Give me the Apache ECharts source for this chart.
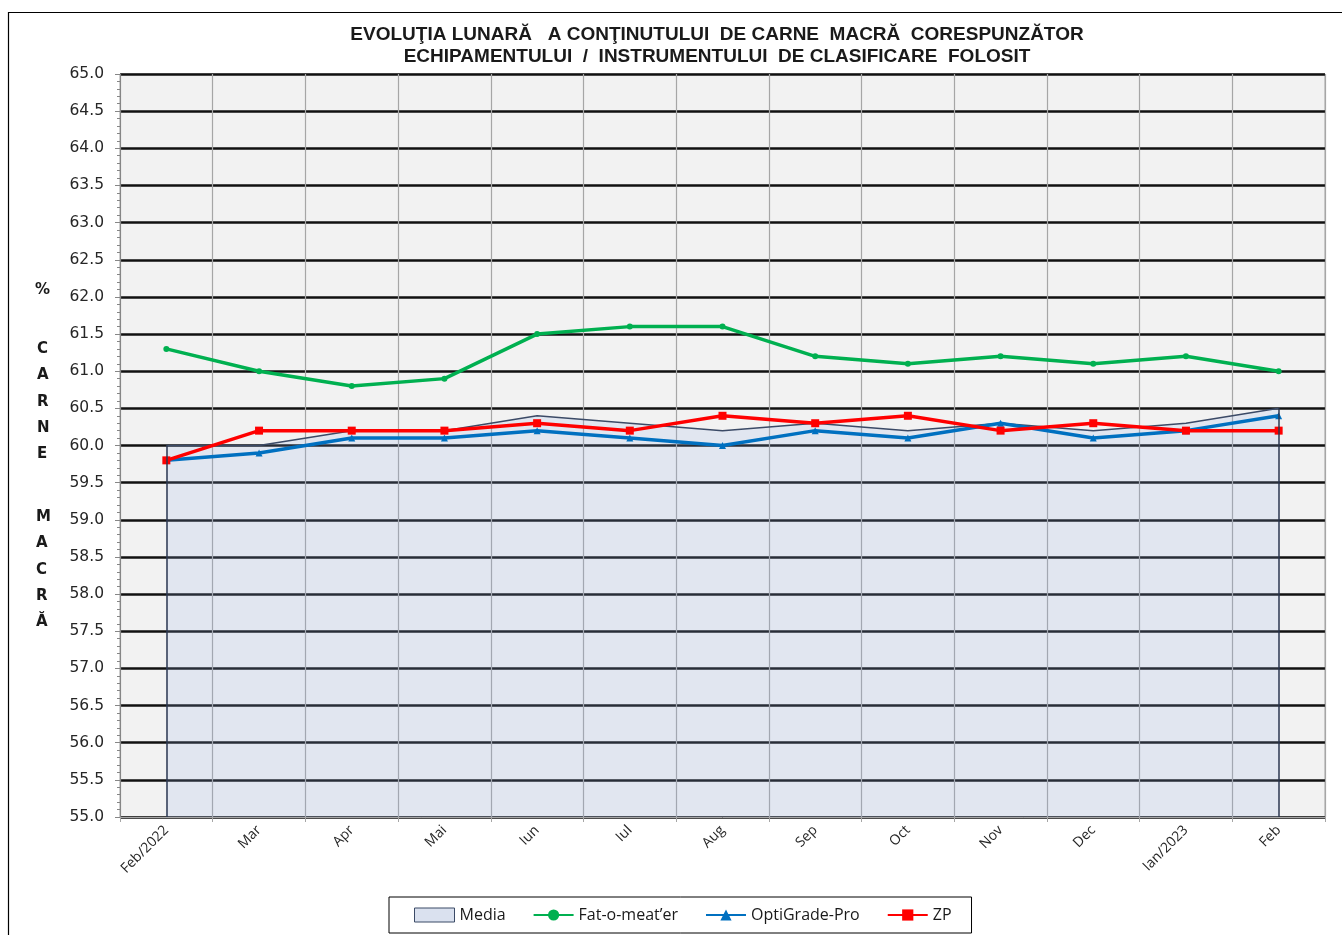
<!DOCTYPE html>
<html>
<head>
<meta charset="utf-8">
<title>Evolutia lunara carne macra</title>
<script src="https://cdn.jsdelivr.net/npm/echarts@6/dist/echarts.min.js"></script>
<style>
  html, body { margin: 0; padding: 0; background: #fff; }
  #chart { width: 1342px; height: 935px; }
</style>
</head>
<body>
<div id="chart"></div>
<script>
// luni (axa x)
const categories = ["Feb/2022", "Mar", "Apr", "Mai", "Iun", "Iul", "Aug", "Sep", "Oct", "Nov", "Dec", "Ian/2023", "Feb"];

// % carne macra pe echipament
const media = [60.0, 60.0, 60.2, 60.2, 60.4, 60.3, 60.2, 60.3, 60.2, 60.3, 60.2, 60.3, 60.5];
const fatOMeater = [61.3, 61.0, 60.8, 60.9, 61.5, 61.6, 61.6, 61.2, 61.1, 61.2, 61.1, 61.2, 61.0];
const optiGradePro = [59.8, 59.9, 60.1, 60.1, 60.2, 60.1, 60.0, 60.2, 60.1, 60.3, 60.1, 60.2, 60.4];
const zp = [59.8, 60.2, 60.2, 60.2, 60.3, 60.2, 60.4, 60.3, 60.4, 60.2, 60.3, 60.2, 60.2];

// axa y
const yMin = 55;
const yMax = 65;
const yStep = 0.5;

const chart = echarts.init(document.getElementById("chart"));

const last = categories.length - 1;

const option = {
  animation: false,
  backgroundColor: "#fff",
  title: {
    text: "EVOLUŢIA LUNARĂ   A CONŢINUTULUI  DE CARNE  MACRĂ  CORESPUNZĂTOR\nECHIPAMENTULUI  /  INSTRUMENTULUI  DE CLASIFICARE  FOLOSIT",
    left: 712,
    top: 19,
    textAlign: "center",
    textStyle: {
      fontFamily: "Liberation Sans",
      fontWeight: "bold",
      fontSize: 19,
      lineHeight: 22,
      color: "#1a1a1a"
    }
  },
  graphic: [
    {
      type: "rect",
      silent: true,
      shape: { x: 8.5, y: 12.5, width: 1340, height: 940 },
      style: { fill: "none", stroke: "#000", lineWidth: 1.2 }
    },
    {
      type: "text",
      left: 35,
      top: 283,
      style: { text: "%", font: "bold 15px 'DejaVu Sans'", fill: "#1a1a1a" }
    },
    {
      type: "text",
      left: 37,
      top: 336,
      style: {
        text: "C\nA\nR\nN\nE",
        font: "bold 15px 'DejaVu Sans'",
        lineHeight: 26.3,
        align: "center",
        fill: "#1a1a1a"
      }
    },
    {
      type: "text",
      left: 36,
      top: 504,
      style: {
        text: "M\nA\nC\nR\nĂ",
        font: "bold 15px 'DejaVu Sans'",
        lineHeight: 26.3,
        align: "center",
        fill: "#1a1a1a"
      }
    }
  ],
  legend: {
    left: 389,
    top: 897,
    padding: [10, 20, 10, 25],
    borderColor: "#000",
    borderWidth: 1,
    itemWidth: 40,
    itemHeight: 14,
    itemGap: 27,
    textStyle: {
      fontFamily: "Open Sans",
      fontSize: 16,
      color: "#1a1a1a"
    },
    data: [
      {
        name: "Media",
        icon: "rect",
        itemStyle: { color: "#dae1ef", borderColor: "#3b4a66", borderWidth: 1 }
      },
      "Fat-o-meat’er",
      "OptiGrade-Pro",
      "ZP"
    ]
  },
  grid: {
    left: 120,
    right: 17,
    top: 74,
    bottom: 118,
    show: true,
    backgroundColor: "#f2f2f2",
    borderColor: "#a6a6a6",
    borderWidth: 1
  },
  xAxis: {
    type: "category",
    data: categories,
    boundaryGap: true,
    axisLine: { lineStyle: { color: "#a6a6a6", width: 1 } },
    axisTick: { show: true, length: 5, lineStyle: { color: "#a6a6a6" } },
    splitLine: { show: true, lineStyle: { color: "#a6a6a6", width: 1.2 } },
    axisLabel: {
      rotate: 45,
      interval: 0,
      margin: 11,
      fontFamily: "Open Sans",
      fontSize: 14,
      color: "#262626"
    }
  },
  yAxis: {
    type: "value",
    min: yMin,
    max: yMax,
    interval: yStep,
    axisLine: { show: true, lineStyle: { color: "#868686", width: 1 } },
    axisTick: { show: true, length: 5, lineStyle: { color: "#868686" } },
    minorTick: { show: true, splitNumber: 5, length: 3, lineStyle: { color: "#868686" } },
    splitLine: { show: true, lineStyle: { color: "#111", width: 2.5 } },
    axisLabel: {
      margin: 16,
      fontFamily: "DejaVu Sans",
      fontSize: 15.5,
      color: "#262626",
      formatter: function (v) { return v.toFixed(1); }
    }
  },
  series: [
    {
      name: "Media",
      type: "line",
      data: media,
      symbol: "none",
      z: 1,
      lineStyle: { color: "#3b4a66", width: 1.5 },
      itemStyle: { color: "#dae1ef" },
      areaStyle: { color: "rgba(150,175,230,0.25)", origin: "start" },
      markLine: {
        silent: true,
        symbol: "none",
        label: { show: false },
        lineStyle: { color: "#2a3650", width: 1.5, type: "solid" },
        data: [
          [{ coord: [categories[0], yMin] }, { coord: [categories[0], media[0]] }],
          [{ coord: [categories[last], yMin] }, { coord: [categories[last], media[last]] }]
        ]
      }
    },
    {
      name: "Fat-o-meat’er",
      type: "line",
      data: fatOMeater,
      symbol: "circle",
      symbolSize: 6,
      z: 3,
      lineStyle: { color: "#00b050", width: 3.5 },
      itemStyle: { color: "#00b050" }
    },
    {
      name: "OptiGrade-Pro",
      type: "line",
      data: optiGradePro,
      symbol: "triangle",
      symbolSize: 7,
      z: 3,
      lineStyle: { color: "#0070c0", width: 3.5 },
      itemStyle: { color: "#0070c0" }
    },
    {
      name: "ZP",
      type: "line",
      data: zp,
      symbol: "rect",
      symbolSize: 8,
      z: 4,
      lineStyle: { color: "#ff0000", width: 3.5 },
      itemStyle: { color: "#ff0000" }
    }
  ]
};

chart.setOption(option);
</script>
</body>
</html>
